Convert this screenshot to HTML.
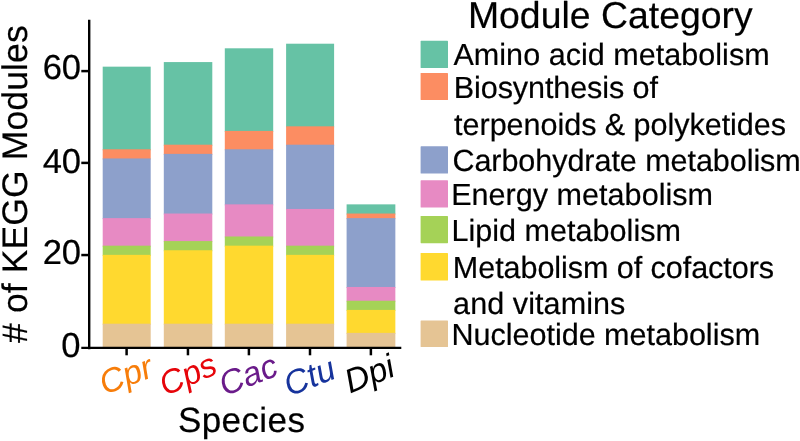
<!DOCTYPE html>
<html><head><meta charset="utf-8"><title>KEGG Modules</title>
<style>
html,body{margin:0;padding:0;background:#fff;}
body{width:800px;height:441px;overflow:hidden;font-family:"Liberation Sans",sans-serif;}
svg{display:block;will-change:transform;}
text{font-family:"Liberation Sans",sans-serif;fill:#000;text-rendering:geometricPrecision;stroke:#000;stroke-width:0.2px;stroke-linejoin:round;}
</style></head><body>
<svg width="800" height="441" viewBox="0 0 800 441">
<rect x="0" y="0" width="800" height="441" fill="#ffffff"/>

<g>
<rect x="102.70" y="66.66" width="48.00" height="83.62" fill="#66C2A5"/>
<rect x="102.70" y="149.28" width="48.00" height="10.18" fill="#FC8D62"/>
<rect x="102.70" y="158.46" width="48.00" height="60.67" fill="#8DA0CB"/>
<rect x="102.70" y="218.13" width="48.00" height="28.54" fill="#E78AC3"/>
<rect x="102.70" y="245.67" width="48.00" height="10.18" fill="#A5D257"/>
<rect x="102.70" y="254.85" width="48.00" height="69.85" fill="#FFD92F"/>
<rect x="102.70" y="323.70" width="48.00" height="24.55" fill="#E5C494"/>
<rect x="163.80" y="62.07" width="48.50" height="83.62" fill="#66C2A5"/>
<rect x="163.80" y="144.69" width="48.50" height="10.18" fill="#FC8D62"/>
<rect x="163.80" y="153.87" width="48.50" height="60.67" fill="#8DA0CB"/>
<rect x="163.80" y="213.54" width="48.50" height="28.54" fill="#E78AC3"/>
<rect x="163.80" y="241.08" width="48.50" height="10.18" fill="#A5D257"/>
<rect x="163.80" y="250.26" width="48.50" height="74.44" fill="#FFD92F"/>
<rect x="163.80" y="323.70" width="48.50" height="24.55" fill="#E5C494"/>
<rect x="224.80" y="48.30" width="48.40" height="83.62" fill="#66C2A5"/>
<rect x="224.80" y="130.92" width="48.40" height="19.36" fill="#FC8D62"/>
<rect x="224.80" y="149.28" width="48.40" height="56.08" fill="#8DA0CB"/>
<rect x="224.80" y="204.36" width="48.40" height="33.13" fill="#E78AC3"/>
<rect x="224.80" y="236.49" width="48.40" height="10.18" fill="#A5D257"/>
<rect x="224.80" y="245.67" width="48.40" height="79.03" fill="#FFD92F"/>
<rect x="224.80" y="323.70" width="48.40" height="24.55" fill="#E5C494"/>
<rect x="286.10" y="43.71" width="48.00" height="83.62" fill="#66C2A5"/>
<rect x="286.10" y="126.33" width="48.00" height="19.36" fill="#FC8D62"/>
<rect x="286.10" y="144.69" width="48.00" height="65.26" fill="#8DA0CB"/>
<rect x="286.10" y="208.95" width="48.00" height="37.72" fill="#E78AC3"/>
<rect x="286.10" y="245.67" width="48.00" height="10.18" fill="#A5D257"/>
<rect x="286.10" y="254.85" width="48.00" height="69.85" fill="#FFD92F"/>
<rect x="286.10" y="323.70" width="48.00" height="24.55" fill="#E5C494"/>
<rect x="346.60" y="204.36" width="48.75" height="10.18" fill="#66C2A5"/>
<rect x="346.60" y="213.54" width="48.75" height="5.59" fill="#FC8D62"/>
<rect x="346.60" y="218.13" width="48.75" height="69.85" fill="#8DA0CB"/>
<rect x="346.60" y="286.98" width="48.75" height="14.77" fill="#E78AC3"/>
<rect x="346.60" y="300.75" width="48.75" height="10.18" fill="#A5D257"/>
<rect x="346.60" y="309.93" width="48.75" height="23.95" fill="#FFD92F"/>
<rect x="346.60" y="332.88" width="48.75" height="15.37" fill="#E5C494"/>
</g>
<g stroke="#000" stroke-width="2.5" fill="none" stroke-linecap="butt">
<line x1="89.2" y1="19.8" x2="89.2" y2="349.15" stroke-width="2.4"/>
<line x1="81.3" y1="347.90" x2="401.3" y2="347.90" stroke-width="2.4"/>
<line x1="81.3" y1="255.05" x2="89.25" y2="255.05"/>
<line x1="81.3" y1="162.90" x2="89.25" y2="162.90"/>
<line x1="81.3" y1="71.10" x2="89.25" y2="71.10"/>
<line x1="126.60" y1="347.90" x2="126.60" y2="355.3"/>
<line x1="187.95" y1="347.90" x2="187.95" y2="355.3"/>
<line x1="248.90" y1="347.90" x2="248.90" y2="355.3"/>
<line x1="310.00" y1="347.90" x2="310.00" y2="355.3"/>
<line x1="370.88" y1="347.90" x2="370.88" y2="355.3"/>
</g>
<text x="80.6" y="356.9" font-size="34.6" text-anchor="end">0</text>
<text x="81.1" y="264.3" font-size="34.6" text-anchor="end">20</text>
<text x="81.1" y="172.55" font-size="34.6" text-anchor="end">40</text>
<text x="81.1" y="79.2" font-size="34.6" text-anchor="end">60</text>
<text id="YL" transform="translate(26.6,184.15) rotate(-90)" font-size="35.5" text-anchor="middle" textLength="317.6" lengthAdjust="spacing"># of KEGG Modules</text>
<text id="SP" x="241.4" y="432.35" font-size="35" text-anchor="middle" textLength="127.0" lengthAdjust="spacing">Species</text>
<text transform="translate(104.5,395) rotate(-20.5)" font-size="33.6" font-style="italic" fill="#F77D0A" style="fill:#F77D0A;stroke:none">Cpr</text>
<text transform="translate(165.3,396.3) rotate(-23.4)" font-size="33.1" font-style="italic" fill="#E6050A" style="fill:#E6050A;stroke:none">Cps</text>
<text transform="translate(224.5,396.3) rotate(-21.3)" font-size="33.6" font-style="italic" fill="#6A1B8A" style="fill:#6A1B8A;stroke:none">Cac</text>
<text transform="translate(289.2,396.5) rotate(-21.3)" font-size="33.6" font-style="italic" fill="#16339C" style="fill:#16339C;stroke:none">Ctu</text>
<text transform="translate(350.1,393.5) rotate(-21.3)" font-size="33.6" font-style="italic" fill="#000000" style="fill:#000000;stroke:none">Dpi</text>
<text x="610.3" y="28.25" font-size="37.4" text-anchor="middle">Module Category</text>
<rect x="420.6" y="40.8" width="27.4" height="27.2" rx="0.6" ry="0.6" fill="#66C2A5"/>
<rect x="420.6" y="72.9" width="27.4" height="27.2" rx="0.6" ry="0.6" fill="#FC8D62"/>
<rect x="420.6" y="146.3" width="27.4" height="27.2" rx="0.6" ry="0.6" fill="#8DA0CB"/>
<rect x="420.6" y="180.3" width="27.4" height="27.2" rx="0.6" ry="0.6" fill="#E78AC3"/>
<rect x="420.6" y="216.0" width="27.4" height="27.2" rx="0.6" ry="0.6" fill="#A5D257"/>
<rect x="420.6" y="252.9" width="27.4" height="27.6" rx="0.6" ry="0.6" fill="#FFD92F"/>
<rect x="420.6" y="320.4" width="27.4" height="26.6" rx="0.6" ry="0.6" fill="#E5C494"/>
<text id="L0" x="453.46" y="65.2" font-size="30.55" textLength="316.21" lengthAdjust="spacing">Amino acid metabolism</text>
<text id="L1" x="453.75" y="98.3" font-size="30.55" textLength="204.22" lengthAdjust="spacing">Biosynthesis of</text>
<text id="L2" x="454.12" y="134.9" font-size="30.55" textLength="331.88" lengthAdjust="spacing">terpenoids &amp; polyketides</text>
<text id="L3" x="452.40" y="170.9" font-size="30.55" textLength="348.38" lengthAdjust="spacing">Carbohydrate metabolism</text>
<text id="L4" x="451.20" y="205.0" font-size="30.55" textLength="261.81" lengthAdjust="spacing">Energy metabolism</text>
<text id="L5" x="451.50" y="241.05" font-size="30.55" textLength="229.44" lengthAdjust="spacing">Lipid metabolism</text>
<text id="L6" x="452.85" y="278.1" font-size="30.55" textLength="321.19" lengthAdjust="spacing">Metabolism of cofactors</text>
<text id="L7" x="453.10" y="313.9" font-size="30.55" textLength="172.25" lengthAdjust="spacing">and vitamins</text>
<text id="L8" x="451.50" y="344.5" font-size="30.55" textLength="308.61" lengthAdjust="spacing">Nucleotide metabolism</text>
</svg>
</body></html>
